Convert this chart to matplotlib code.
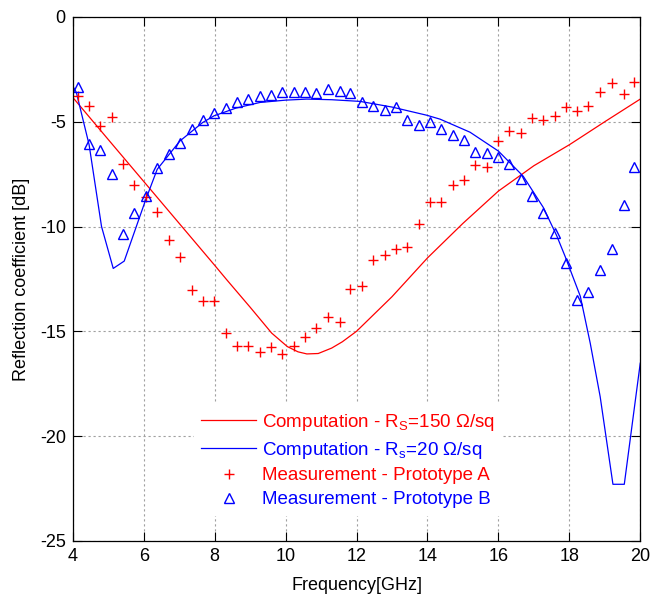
import matplotlib
matplotlib.use("Agg")
import matplotlib.pyplot as plt

plt.rcParams['font.family'] = ['Liberation Sans', 'DejaVu Sans']
plt.rcParams['mathtext.fontset'] = 'custom'
plt.rcParams['mathtext.rm'] = 'Liberation Sans'
plt.rcParams['mathtext.it'] = 'Liberation Sans:italic'
plt.rcParams['axes.unicode_minus'] = False

# computed curves
f_comp_a = [4.0, 5.0, 6.0, 7.0, 8.0, 8.34, 9.0, 9.61, 10.05, 10.35, 10.6, 10.92, 11.3, 11.6,
            12.0, 13.0, 14.0, 15.0, 16.0, 17.0, 18.0, 18.31, 19.0, 20.0]
s_comp_a = [-3.84, -5.85, -7.85, -9.85, -11.85, -12.54, -13.85, -15.09, -15.73, -15.98, -16.08,
            -16.06, -15.8, -15.5, -15.0, -13.35, -11.5, -9.85, -8.31, -7.1, -6.1, -5.76, -5.0, -3.92]

f_comp_b = [4.0, 4.1, 4.46, 4.81, 5.14, 5.45, 6.06, 6.38, 7.02, 7.66, 7.98, 8.6, 9.28, 10.0, 10.6,
            11.3, 12.1, 13.0, 13.98, 14.36, 15.2, 16.0, 16.7, 17.27, 17.65, 17.88, 18.31, 18.59,
            18.87, 19.23, 19.55, 20.0]
s_comp_b = [-3.3, -3.6, -6.1, -10.0, -12.0, -11.65, -8.7, -7.27, -5.92, -5.04, -4.72, -4.35, -4.08,
            -3.97, -3.92, -3.95, -4.03, -4.3, -4.69, -4.88, -5.5, -6.4, -7.6, -9.1, -10.46, -11.42,
            -13.33, -15.57, -18.12, -22.3, -22.3, -16.52]

# measured points
f_meas = [4.14, 4.47, 4.78, 5.10, 5.42, 5.73, 6.06, 6.38, 6.70, 7.02, 7.35, 7.67, 7.98, 8.31,
          8.63, 8.95, 9.27, 9.59, 9.91, 10.24, 10.56, 10.87, 11.20, 11.52, 11.82, 12.15, 12.47,
          12.80, 13.11, 13.43, 13.75, 14.07, 14.39, 14.71, 15.03, 15.35, 15.67, 15.99, 16.31,
          16.63, 16.94, 17.27, 17.60, 17.91, 18.23, 18.54, 18.87, 19.20, 19.53, 19.83]
s_meas_a = [-3.76, -4.24, -5.2, -4.77, -7.03, -8.04, -8.6, -9.31, -10.62, -11.45, -13.01, -13.55,
            -13.55, -15.09, -15.68, -15.68, -15.99, -15.76, -16.06, -15.69, -15.29, -14.86, -14.32,
            -14.58, -12.98, -12.86, -11.58, -11.34, -11.05, -10.99, -9.87, -8.84, -8.84, -8.04,
            -7.80, -7.08, -7.16, -5.9, -5.44, -5.55, -4.83, -4.91, -4.72, -4.29, -4.51, -4.27,
            -3.6, -3.17, -3.68, -3.09]
s_meas_b = [-3.36, -6.08, -6.37, -7.51, -10.38, -9.35, -8.55, -7.22, -6.55, -6.0, -5.36, -4.93,
            -4.56, -4.35, -4.08, -3.92, -3.76, -3.73, -3.6, -3.6, -3.56, -3.65, -3.44, -3.54,
            -3.65, -4.05, -4.26, -4.43, -4.29, -4.93, -5.15, -5.01, -5.36, -5.65, -5.87, -6.43,
            -6.51, -6.67, -7.0, -7.72, -8.55, -9.35, -10.3, -11.74, -13.53, -13.13, -12.09,
            -11.07, -8.95, -7.14]

xticks = [4, 6, 8, 10, 12, 14, 16, 18, 20]
yticks = [0, -5, -10, -15, -20, -25]

fig = plt.figure(figsize=(6.5, 6.05), dpi=100)
ax = fig.add_axes([0.112, 0.106, 0.873, 0.866])

ax.plot(f_comp_a, s_comp_a, color='r', lw=0.9,
        label=r'Computation - R$_\mathrm{S}$=150 $\Omega$/sq')
ax.plot(f_comp_b, s_comp_b, color='b', lw=0.9,
        label=r'Computation - R$_\mathrm{s}$=20 $\Omega$/sq')
ax.plot(f_meas, s_meas_a, '+', color='r', ms=7, mew=1.0,
        label='Measurement - Prototype A')
ax.plot(f_meas, s_meas_b, '^', color='b', ms=6.7, mew=1.0, mfc='none',
        label='Measurement - Prototype B')

ax.set_xlim(4, 20)
ax.set_ylim(-25, 0)
ax.set_xticks(xticks)
ax.set_yticks(yticks)
ax.tick_params(direction='in', length=6.5, width=0.8, labelsize=13,
               top=True, right=True, pad=5)
ax.grid(True, color='#a0a0a0', linestyle=(0, (2, 2.5)), lw=0.8)
for s in ax.spines.values():
    s.set_linewidth(0.9)

ax.set_xlabel('Frequency[GHz]', fontsize=13, labelpad=9)
ax.set_ylabel('Reflection coefficient [dB]', fontsize=13, labelpad=7)

leg = ax.legend(loc='lower left', bbox_to_anchor=(0.197, 0.03), fontsize=13.5,
                frameon=True, fancybox=False, framealpha=1, edgecolor='none',
                handlelength=2.9, handletextpad=0.33, labelspacing=0.36,
                borderpad=0.4)
for txt, c in zip(leg.get_texts(), ['r', 'b', 'r', 'b']):
    txt.set_color(c)

fig.savefig('out.png', dpi=100)
